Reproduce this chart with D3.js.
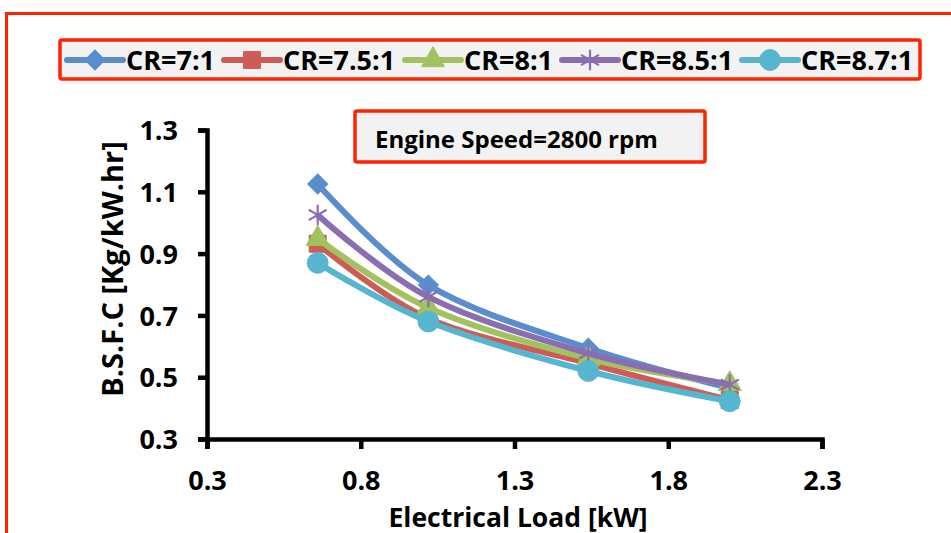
<!DOCTYPE html>
<html>
<head>
<meta charset="utf-8">
<script src="https://cdn.jsdelivr.net/npm/d3@7"></script>
<style>
  body { margin: 0; background: #fff; }
  text { font-family: "Open Sans", sans-serif; font-weight: bold; fill: #000; }
</style>
</head>
<body>
<svg id="chart" width="951" height="533"></svg>
<script>
// values
var loads = [0.66, 1.02, 1.54, 2.0];
var seriesNames = ['CR=7:1', 'CR=7.5:1', 'CR=8:1', 'CR=8.5:1', 'CR=8.7:1'];
var cr70 = [1.125, 0.798, 0.594, 0.465];
var cr75 = [0.932, 0.690, 0.545, 0.426];
var cr80 = [0.948, 0.725, 0.560, 0.478];
var cr85 = [1.025, 0.760, 0.577, 0.476];
var cr87 = [0.870, 0.680, 0.520, 0.422];
var xTicks = [0.3, 0.8, 1.3, 1.8, 2.3];
var yTicks = [0.3, 0.5, 0.7, 0.9, 1.1, 1.3];

var colors = ['#5a8dcc', '#cd5c57', '#a2c25f', '#8b6db1', '#56b5cf'];
var symbols = [d3.symbolSquare, d3.symbolSquare, d3.symbolTriangle, d3.symbolAsterisk, d3.symbolCircle];
var symSizes = [200, 290, 230, 300, 340];
var allValues = [cr70, cr75, cr80, cr85, cr87];

var svg = d3.select('#chart');

// outer frame
svg.append('rect')
  .attr('x', 6.5).attr('y', 13.5).attr('width', 960).attr('height', 540)
  .attr('fill', 'none').attr('stroke', '#ff2200').attr('stroke-width', 3);

var x = d3.scaleLinear().domain([0.3, 2.3]).range([207, 822]);
var y = d3.scaleLinear().domain([0.3, 1.3]).range([439, 130]);

function drawMarker(g, i, px, py) {
  var sym = g.append('path')
    .attr('d', d3.symbol().type(symbols[i]).size(symSizes[i])())
    .attr('transform', 'translate(' + px + ',' + py + ')' + (i === 0 ? ' rotate(45)' : ''));
  if (i === 3) {
    sym.attr('fill', 'none').attr('stroke', colors[i]).attr('stroke-width', 2.2);
  } else {
    sym.attr('fill', colors[i]).attr('stroke', colors[i]).attr('stroke-width', 1);
  }
}

// axes
var yAxis = svg.append('g')
  .attr('transform', 'translate(207,0)')
  .call(d3.axisLeft(y).tickValues(yTicks).tickFormat(d3.format('.1f')).tickSize(9).tickPadding(20));
var xAxis = svg.append('g')
  .attr('transform', 'translate(0,439)')
  .call(d3.axisBottom(x).tickValues(xTicks).tickFormat(d3.format('.1f')).tickSize(10).tickPadding(22));

[yAxis, xAxis].forEach(function(ax) {
  ax.select('.domain').attr('stroke', '#000').attr('stroke-width', 4.5);
  ax.selectAll('.tick line').attr('stroke', '#000').attr('stroke-width', 4.5);
  ax.selectAll('.tick text').style('font-size', '27px').style('font-family', '"Open Sans", sans-serif')
    .style('font-weight', 'bold').attr('fill', '#000');
});
yAxis.selectAll('.tick text').attr('dy', '0.36em');
xAxis.selectAll('.tick text').attr('dy', '0.72em');

// axis titles
svg.append('text')
  .attr('transform', 'translate(123,269) rotate(-90)')
  .attr('text-anchor', 'middle')
  .style('font-size', '29px')
  .text('B.S.F.C [Kg/kW.hr]');
svg.append('text')
  .attr('x', 518).attr('y', 527)
  .attr('text-anchor', 'middle')
  .style('font-size', '26.5px')
  .text('Electrical Load [kW]');

// series
var line = d3.line()
  .x(function(d) { return x(d[0]); })
  .y(function(d) { return y(d[1]); })
  .curve(d3.curveCatmullRom.alpha(0));

allValues.forEach(function(vals, i) {
  var pts = loads.map(function(l, j) { return [l, vals[j]]; });
  var g = svg.append('g').classed('series', true);
  g.append('path')
    .attr('d', line(pts))
    .attr('fill', 'none')
    .attr('stroke', colors[i])
    .attr('stroke-width', 6)
    .attr('stroke-linejoin', 'round');
  pts.forEach(function(p) { drawMarker(g, i, x(p[0]), y(p[1])); });
});

// speed label box
svg.append('rect')
  .attr('x', 355).attr('y', 111).attr('width', 350).attr('height', 51).attr('rx', 2)
  .attr('fill', '#f2f2f2').attr('stroke', '#ff2200').attr('stroke-width', 3.5);
svg.append('text')
  .attr('x', 375).attr('y', 148)
  .style('font-size', '24px')
  .text('Engine Speed=2800 rpm');

// legend
svg.append('rect')
  .attr('x', 60).attr('y', 40).attr('width', 860).attr('height', 39).attr('rx', 2)
  .attr('fill', '#f2f2f2').attr('stroke', '#ff2200').attr('stroke-width', 3.5);

var legendX = [67, 224, 405, 562, 742];
seriesNames.forEach(function(name, i) {
  var lg = svg.append('g').attr('transform', 'translate(' + legendX[i] + ',60)');
  lg.append('line')
    .attr('x1', 0).attr('x2', 56).attr('y1', 0).attr('y2', 0)
    .attr('stroke', colors[i]).attr('stroke-width', 6).attr('stroke-linecap', 'round');
  drawMarker(lg, i, 28, 0);
  lg.append('text')
    .attr('x', 59).attr('y', 0).attr('dy', '0.36em')
    .style('font-size', '27px')
    .text(name);
});
</script>
</body>
</html>
